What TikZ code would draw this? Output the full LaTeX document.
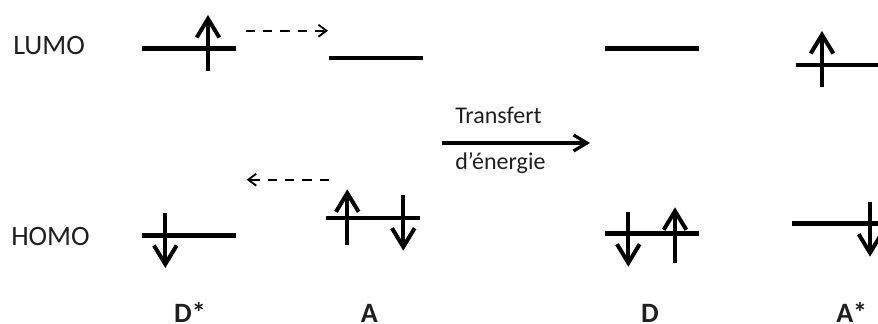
\documentclass[tikz,border=0pt]{standalone}
\usepackage{fontspec}
\setmainfont{Carlito}
\usetikzlibrary{arrows.meta}
\tikzset{
  every picture/.style={line cap=butt, line join=miter},
  % one orbital level (thick bar)
  orbital/.style={line width=3.6pt},
  % electron spin (arrow with open head)
  spin/.style={line width=3pt, -{Straight Barb[length=14pt, width=17pt]}},
  % electron hop between two molecules
  hop/.style={line width=1.4pt, dash pattern=on 7pt off 6pt, -{Straight Barb[length=6pt, width=9pt]}},
  transfer/.style={line width=2.4pt, -{Straight Barb[length=10pt, width=12pt]}},
  orbname/.style={font=\fontsize{21}{25}\selectfont, text=black!88, anchor=base west, inner sep=0pt},
  molname/.style={font=\bfseries\fontsize{21}{25}\selectfont, text=black!88, anchor=base, inner sep=0pt},
  note/.style={font=\fontsize{18}{22}\selectfont, text=black!88, anchor=base west, inner sep=0pt},
}
\begin{document}
\begin{tikzpicture}[x=0.75pt, y=-0.75pt]
  \useasboundingbox (0,0) rectangle (878,324);
  % ---------------- orbital names
  \node[orbname] (lumo) at (13,55) {LUMO};
  \node[orbname] (homo) at (11,245) {HOMO};
  % ---------------- D* (excited donor)
  \draw[orbital] (142,48.7) -- (236,48.7);
  \draw[orbital] (142,235.3) -- (236,235.3);
  \draw[spin] (208,71) -- (208,15);
  \draw[spin] (165.3,212.7) -- (165.3,268);
  % ---------------- A (acceptor)
  \draw[orbital] (329,58) -- (422.7,58);
  \draw[orbital] (326,218) -- (419.7,218);
  \draw[spin] (347.3,245) -- (347.3,189.3);
  \draw[spin] (403.3,195) -- (403.3,250.7);
  % electron exchange D* <-> A
  \coordinate (upfrom) at (245.7,30.7);
  \coordinate (upto) at (328,30.7);
  \coordinate (downfrom) at (329,179.7);
  \coordinate (downto) at (246.7,179.7);
  \draw[hop] (upfrom) -- (upto);
  \draw[hop] (downfrom) -- (downto);
  % ---------------- energy transfer
  \coordinate (trfrom) at (441.7,143);
  \coordinate (trto) at (590,143);
  \draw[transfer] (trfrom) -- (trto);
  \node[note] (trtop) at (455,123.3) {Transfert};
  \node[note] (trbot) at (455,169.5) {d’énergie};
  % ---------------- D (ground state donor)
  \draw[orbital] (605,48.3) -- (698.7,48.3);
  \draw[orbital] (605,233.7) -- (698.7,233.7);
  \draw[spin] (628.3,211.7) -- (628.3,266.7);
  \draw[spin] (675,263.3) -- (675,207.3);
  % ---------------- A* (excited acceptor)
  \draw[orbital] (796,65) -- (890,65);
  \draw[orbital] (792,223.3) -- (886,223.3);
  \draw[spin] (822,86.7) -- (822,31);
  \draw[spin] (870,201.7) -- (870,256.7);
  % ---------------- molecule names
  \node[molname] (dstar) at (190,322.5) {D*};
  \node[molname] (acc) at (369.3,322.5) {A};
  \node[molname] (don) at (650,322.5) {D};
  \node[molname] (astar) at (851.7,322.5) {A*};
\end{tikzpicture}
\end{document}
